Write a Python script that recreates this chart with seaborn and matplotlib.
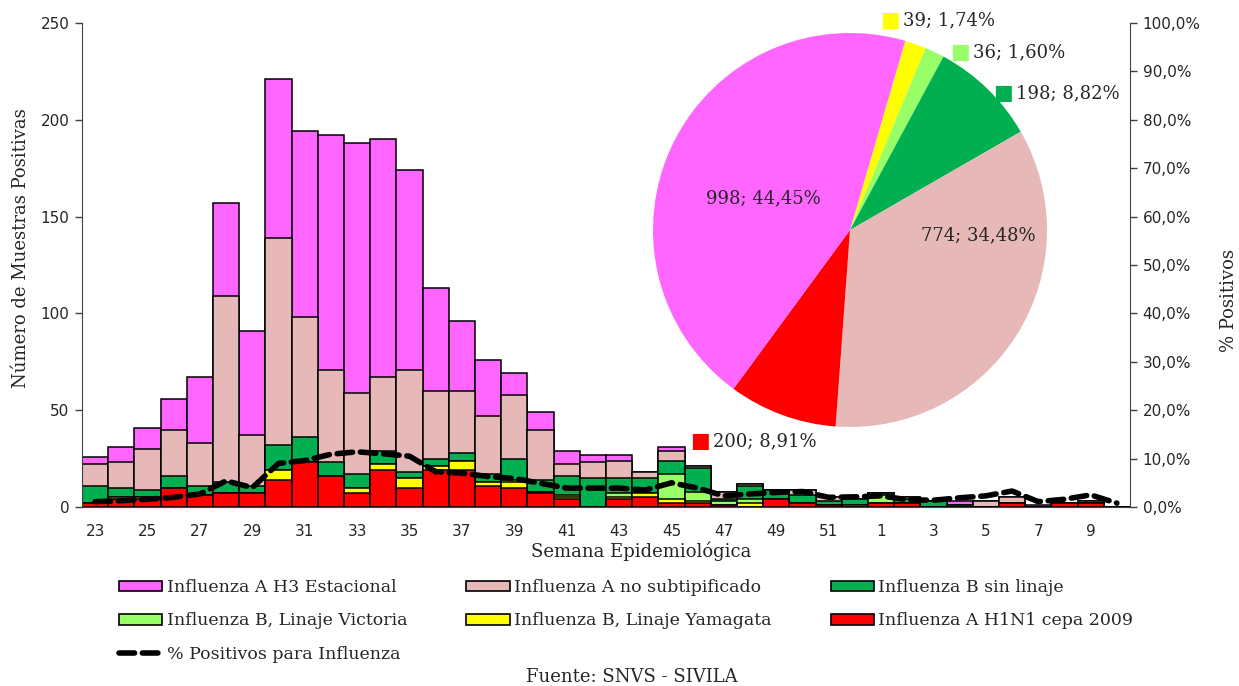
import numpy as np
import pandas as pd
import seaborn as sns
import matplotlib.pyplot as plt
from matplotlib.patches import Patch
from matplotlib.lines import Line2D
from matplotlib.ticker import FuncFormatter

# Semanas epidemiológicas (23 a 52 y 1 a 10)
weeks = ['23', '24', '25', '26', '27', '28', '29', '30', '31', '32',
         '33', '34', '35', '36', '37', '38', '39', '40', '41', '42',
         '43', '44', '45', '46', '47', '48', '49', '50', '51', '52',
         '1', '2', '3', '4', '5', '6', '7', '8', '9', '10']

# Casos por semana (de abajo hacia arriba en la pila)
h1n1 = [2, 4, 4, 10, 6, 7, 7, 14, 23, 16, 7, 19, 10, 19, 19, 11, 10, 7, 4, 0,
        4, 5, 2, 2, 1, 0, 4, 2, 1, 0, 2, 2, 0, 0, 0, 2, 0, 2, 2, 0]
yamagata = [0, 1, 1, 0, 0, 0, 0, 5, 0, 0, 3, 3, 5, 2, 5, 2, 3, 1, 1, 0,
            1, 2, 2, 1, 0, 2, 0, 0, 0, 1, 0, 0, 0, 0, 0, 0, 0, 0, 0, 0]
victoria = [0, 0, 0, 0, 0, 0, 0, 0, 0, 0, 0, 0, 0, 0, 0, 0, 1, 0, 1, 0,
            2, 0, 13, 5, 2, 2, 0, 0, 0, 0, 4, 0, 0, 0, 0, 0, 0, 0, 0, 0]
b_sin_linaje = [9, 5, 4, 6, 5, 6, 4, 13, 13, 7, 7, 7, 3, 4, 4, 4, 11, 6, 10, 15,
                8, 8, 7, 12, 1, 7, 5, 4, 2, 3, 1, 2, 3, 1, 0, 0, 0, 0, 0, 0]
a_no_subtip = [11, 13, 21, 24, 22, 96, 26, 107, 62, 48, 42, 38, 53, 35, 32, 30, 33, 26, 6, 8,
               9, 3, 5, 1, 4, 1, 0, 3, 2, 0, 0, 1, 0, 0, 3, 3, 0, 0, 1, 0]
h3 = [4, 8, 11, 16, 34, 48, 54, 82, 96, 121, 129, 123, 103, 53, 36, 29, 11, 9, 7, 4,
      3, 0, 2, 0, 0, 0, 0, 0, 0, 0, 0, 0, 0, 2, 0, 0, 1, 0, 0, 0]

# % positivos para influenza
pct_pos = [1.1, 1.3, 1.6, 2.0, 2.7, 5.4, 4.0, 9.0, 9.6, 10.9,
           11.4, 11.0, 10.5, 7.3, 7.0, 6.3, 5.9, 4.9, 3.9, 3.9,
           3.9, 3.5, 5.0, 3.9, 2.3, 2.7, 3.0, 3.2, 2.0, 2.1,
           2.3, 1.5, 1.4, 1.9, 2.3, 3.3, 1.1, 1.6, 2.5, 0.8]

# Torta: totales acumulados
pie_values = [39, 36, 198, 774, 200, 998]

names = ['Influenza A H1N1 cepa 2009', 'Influenza B, Linaje Yamagata',
         'Influenza B, Linaje Victoria', 'Influenza B sin linaje',
         'Influenza A no subtipificado', 'Influenza A H3 Estacional']
colors = ['#FF0000', '#FFFF00', '#99FF66', '#00B050', '#E6B8B7', '#FF66FF']
series = [h1n1, yamagata, victoria, b_sin_linaje, a_no_subtip, h3]

sns.set_style('white')
plt.rcParams['font.family'] = ['DejaVu Serif']

W, H = 1239, 686
fig = plt.figure(figsize=(W / 100, H / 100), dpi=100)
ax = fig.add_axes([82 / W, 1 - 507 / H, 1048 / W, 484 / H])

# barras apiladas: se dibuja el acumulado desde la capa superior
cum = np.cumsum(np.array(series), axis=0)
for i in reversed(range(len(series))):
    sns.barplot(x=weeks, y=cum[i], order=weeks, color=colors[i], saturation=1,
                edgecolor='black', linewidth=1.1, width=1.0, errorbar=None, ax=ax)

ax.set_xlim(-0.5, len(weeks) - 0.5)
ax.set_ylim(0, 250)
ax.set_yticks(range(0, 251, 50))
ax.set_xticks(range(0, len(weeks), 2))
ax.set_xticklabels(weeks[::2])
ax.set_xticks(np.arange(-0.5, len(weeks), 1), minor=True)
ax.tick_params(axis='x', which='major', length=0, pad=12)
ax.tick_params(axis='x', which='minor', length=5, width=1, direction='out', color='#404040')
ax.tick_params(axis='y', length=5, width=1, direction='out', color='#404040', pad=4)
ax.set_xlabel('')
ax.set_ylabel('')
for s in ['top', 'right']:
    ax.spines[s].set_visible(False)
for s in ['left', 'bottom']:
    ax.spines[s].set_color('#404040')

ax2 = ax.twinx()
sns.lineplot(x=np.arange(len(weeks)), y=pct_pos, color='black', linewidth=4, ax=ax2)
ln = ax2.lines[0]
ln.set_dashes([2.8, 1.4])
ln.set_dash_capstyle('round')
ax2.set_ylim(0, 100)
ax2.set_yticks(range(0, 101, 10))
ax2.yaxis.set_major_formatter(FuncFormatter(lambda v, p: f'{v:.1f}'.replace('.', ',') + '%'))
ax2.tick_params(axis='y', length=5, width=1, direction='out', color='#404040', pad=4)
ax2.set_ylabel('')
for s in ['top', 'left', 'bottom']:
    ax2.spines[s].set_visible(False)
ax2.spines['right'].set_color('#404040')

for lab in ax.get_xticklabels() + ax.get_yticklabels() + ax2.get_yticklabels():
    lab.set_fontfamily('DejaVu Sans')
    lab.set_fontsize(11)

fig.text(21 / W, 1 - 248 / H, 'Número de Muestras Positivas', rotation=90,
         ha='center', va='center', fontsize=13)
fig.text(1229 / W, 1 - 300 / H, '% Positivos', rotation=90,
         ha='center', va='center', fontsize=13)
fig.text(641 / W, 1 - 551 / H, 'Semana Epidemiológica', ha='center', va='center', fontsize=13)
fig.text(632 / W, 1 - 677 / H, 'Fuente: SNVS - SIVILA', ha='center', va='center', fontsize=13)

# torta
pax = fig.add_axes([653 / W, 1 - 427 / H, 394 / W, 394 / H])
pie_colors = ['#FFFF00', '#99FF66', '#00B050', '#E6B8B7', '#FF0000', '#FF66FF']
pax.pie(pie_values, colors=pie_colors, startangle=73.7, counterclock=False,
        wedgeprops=dict(linewidth=0))
pax.set_xlim(-1, 1)
pax.set_ylim(-1, 1)
pax.set_aspect('equal')
total = sum(pie_values)
pie_labels = [f'{v}; ' + f'{100 * v / total:.2f}'.replace('.', ',') + '%' for v in pie_values]
# posiciones de etiquetas (fuera con cuadrado de color, dentro centradas)
outside = {0: (0.203, 1.066), 1: (0.558, 0.904), 2: (0.777, 0.695), 4: (-0.761, -1.071)}
inside = {3: (0.65, -0.025), 5: (-0.442, 0.162)}
for i, (x, y) in outside.items():
    pax.text(x, y, '■', color=pie_colors[i], fontsize=15, ha='center', va='center',
             family='DejaVu Sans', clip_on=False)
    pax.text(x + 0.065, y, pie_labels[i], fontsize=13, ha='left', va='center', clip_on=False)
for i, (x, y) in inside.items():
    pax.text(x, y, pie_labels[i], fontsize=13, ha='center', va='center')

# leyenda
handles = {n: Patch(facecolor=c, edgecolor='black', linewidth=1.2) for n, c in zip(names, colors)}
line_h = Line2D([], [], color='black', linewidth=4, dashes=[2.8, 1.4], dash_capstyle='round')
order = ['Influenza A H3 Estacional', 'Influenza B, Linaje Victoria', '% Positivos para Influenza',
         'Influenza A no subtipificado', 'Influenza B, Linaje Yamagata',
         'Influenza B sin linaje', 'Influenza A H1N1 cepa 2009']
hs = [line_h if n.startswith('%') else handles[n] for n in order]
fig.legend(hs, order, ncol=3, loc='upper left', bbox_to_anchor=(119 / W, 1 - 579 / H),
           frameon=False, fontsize=12.5, handlelength=2.5, handleheight=0.55,
           columnspacing=3.4, handletextpad=0.25, labelspacing=0.95,
           borderaxespad=0, borderpad=0)

fig.savefig('out.png', dpi=100)
